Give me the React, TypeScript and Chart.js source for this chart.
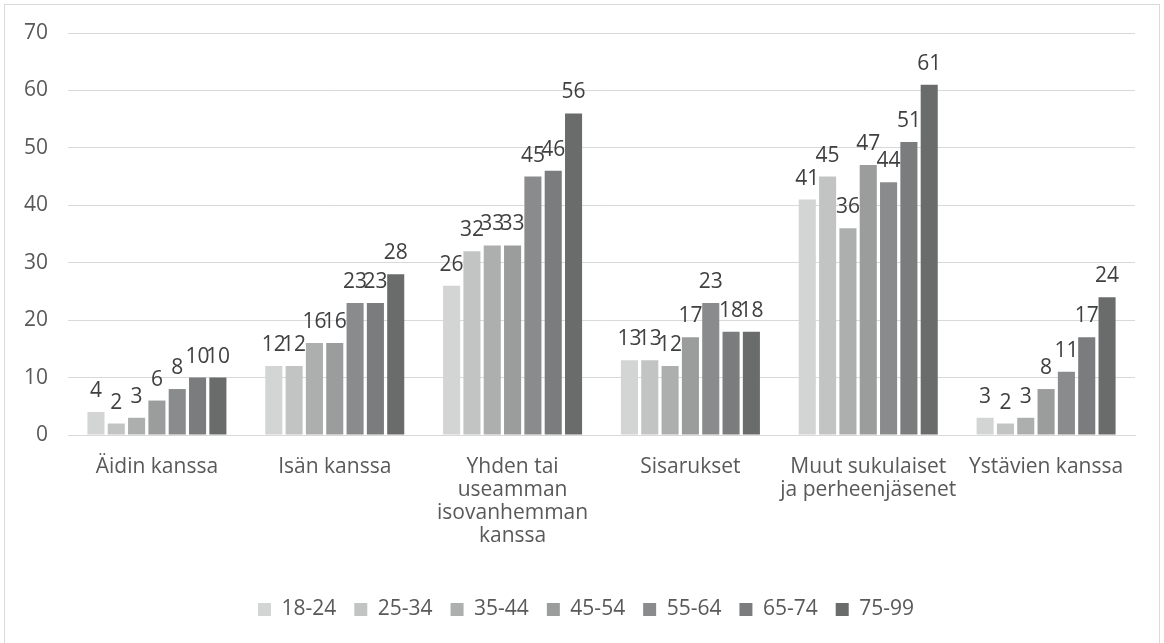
import React, { useEffect, useRef } from "react";
import { Chart, registerables } from "chart.js";

Chart.register(...registerables);

const categories: (string | string[])[] = [
  "Äidin kanssa",
  "Isän kanssa",
  ["Yhden tai", "useamman", "isovanhemman", "kanssa"],
  "Sisarukset",
  ["Muut sukulaiset", "ja perheenjäsenet"],
  "Ystävien kanssa",
];

const seriesNames = ["18-24", "25-34", "35-44", "45-54", "55-64", "65-74", "75-99"];
const seriesColors = ["#d3d4d4", "#c2c3c3", "#adaeae", "#9b9c9c", "#8a8b8c", "#7b7c7d", "#6a6c6c"];

const s1824 = [4, 12, 26, 13, 41, 3];
const s2534 = [2, 12, 32, 13, 45, 2];
const s3544 = [3, 16, 33, 12, 36, 3];
const s4554 = [6, 16, 33, 17, 47, 8];
const s5564 = [8, 23, 45, 23, 44, 11];
const s6574 = [10, 23, 46, 18, 51, 17];
const s7599 = [10, 28, 56, 18, 61, 24];
const seriesValues = [s1824, s2534, s3544, s4554, s5564, s6574, s7599];

const yTicks = [0, 10, 20, 30, 40, 50, 60, 70];

const FONT = "'Open Sans', 'Liberation Sans', sans-serif";

const dataLabels = {
  id: "dataLabels",
  afterDatasetsDraw(chart: any) {
    const ctx = chart.ctx;
    ctx.save();
    ctx.font = `21px ${FONT}`;
    ctx.fillStyle = "#404040";
    ctx.textAlign = "center";
    ctx.textBaseline = "alphabetic";
    chart.data.datasets.forEach((ds: any, i: number) => {
      const meta = chart.getDatasetMeta(i);
      meta.data.forEach((bar: any, j: number) => {
        ctx.fillText(String(ds.data[j]), bar.x, bar.y - 15);
      });
    });
    ctx.restore();
  },
};

const legendShift = {
  id: "legendShift",
  afterLayout(chart: any) {
    const lg = chart.legend;
    if (lg) {
      lg.left += 16;
      lg.right += 16;
    }
  },
};

export default function App() {
  const ref = useRef<HTMLCanvasElement>(null);
  useEffect(() => {
    if (!ref.current) return;
    const chart = new Chart(ref.current, {
      type: "bar",
      data: {
        labels: categories,
        datasets: seriesNames.map((name, i) => ({
          label: name,
          data: seriesValues[i],
          backgroundColor: seriesColors[i],
          categoryPercentage: 0.8,
          barPercentage: 0.84,
        })),
      },
      options: {
        responsive: false,
        animation: false,
        layout: { padding: { top: 28, right: 24, bottom: 13, left: 0 } },
        plugins: {
          legend: {
            position: "bottom",
            labels: {
              boxWidth: 13,
              boxHeight: 13,
              padding: 18,
              color: "#595959",
              font: { family: FONT, size: 21, lineHeight: 1.1 },
            },
          },
          tooltip: { enabled: false },
        },
        scales: {
          x: {
            grid: { display: false },
            border: { color: "#d9d9d9", width: 1 },
            ticks: {
              color: "#595959",
              font: { family: FONT, size: 21, lineHeight: 1.1 },
              padding: 12,
              maxRotation: 0,
              autoSkip: false,
            },
            afterFit: (scale: any) => {
              scale.height = 146;
            },
          },
          y: {
            min: 0,
            max: 70,
            afterBuildTicks: (scale: any) => {
              scale.ticks = yTicks.map((v) => ({ value: v }));
            },
            grid: { color: "#d9d9d9", drawTicks: false },
            border: { display: false },
            ticks: {
              color: "#595959",
              font: { family: FONT, size: 21 },
              padding: 20,
            },
            afterFit: (scale: any) => {
              scale.width = 63;
              scale.paddingTop = 0;
              scale.paddingBottom = 0;
            },
          },
        },
      },
      plugins: [dataLabels, legendShift],
    });
    return () => chart.destroy();
  }, []);

  return (
    <div
      style={{
        position: "absolute",
        left: 4,
        top: 4,
        width: 1154,
        height: 660,
        border: "1px solid #d9d9d9",
        background: "#fff",
      }}
    >
      <canvas ref={ref} width={1154} height={638} style={{ display: "block" }} />
    </div>
  );
}
